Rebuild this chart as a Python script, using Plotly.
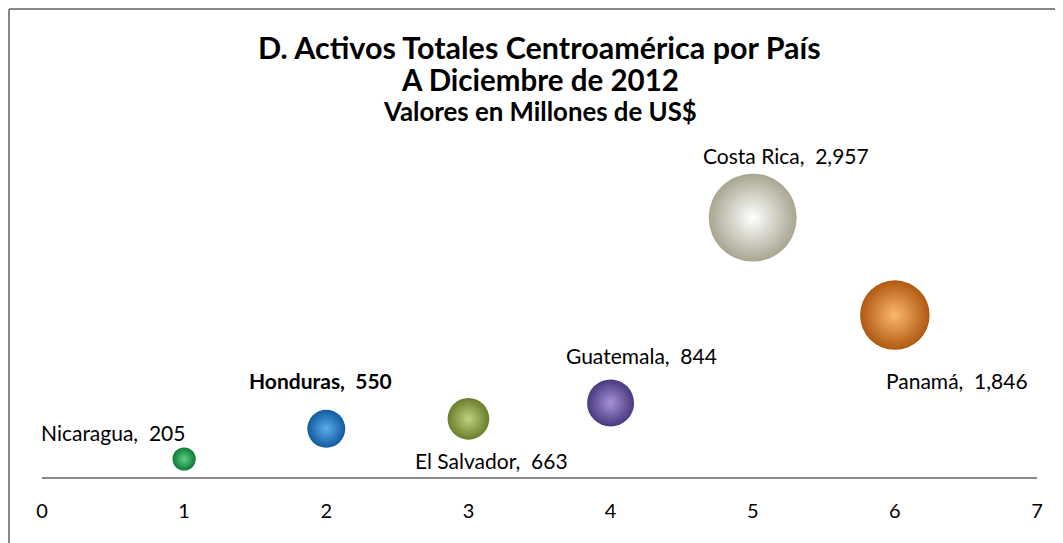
import plotly.graph_objects as go

countries = ["Nicaragua", "Honduras", "El Salvador", "Guatemala", "Costa Rica", "Panamá"]
x_pos = [1, 2, 3, 4, 5, 6]
assets = [205, 550, 663, 844, 2957, 1846]
value_labels = ["205", "550", "663", "844", "2,957", "1,846"]
x_ticks = [0, 1, 2, 3, 4, 5, 6, 7]

# styles
center_colors = ["#5fd088", "#5aaeea", "#bdd27e", "#a593d4", "#ffffff", "#fbb870"]
edge_colors = ["#0c7a34", "#125a9e", "#6a7d2c", "#4a3880", "#a8a690", "#b05810"]
label_shift = [(-71, 27), (-6, 48), (23, -42), (31, 47), (33, 62), (62, -65)]
FONT = "Lato"

# page body has an 8px margin; figure laid out in its own coordinates
OFF = 8
W, H = 1063 - OFF, 543 - OFF
L, T = 42 - OFF, 170 - OFF
pw, ph = 995, 307
R = W - L - pw
B = H - T - ph

fig = go.Figure()
for i in range(len(countries)):
    fig.add_trace(go.Scatter(
        x=[x_pos[i]], y=[assets[i]], mode="markers",
        marker=dict(size=[assets[i]], sizemode="area", sizeref=0.764, opacity=1,
                    color=edge_colors[i], line=dict(width=0),
                    gradient=dict(type="radial", color=center_colors[i])),
        cliponaxis=False, showlegend=False, hoverinfo="skip"))

for i, c in enumerate(countries):
    txt = f"{c},\u00a0\u00a0{value_labels[i]}"
    if c == "Honduras":
        txt = f"<b>{txt}</b>"
    fig.add_annotation(x=x_pos[i], y=assets[i], text=txt, showarrow=False,
                       xshift=label_shift[i][0], yshift=label_shift[i][1],
                       xanchor="center", yanchor="middle",
                       font=dict(family=FONT, size=21, color="#000"))

title_lines = [("<b>D. Activos Totales Centroamérica por País</b>", 30.5, 47),
               ("<b>A Diciembre de 2012</b>", 29.5, 79),
               ("<b>Valores en Millones de US$</b>", 25.8, 111)]
for txt, sz, ypx in title_lines:
    fig.add_annotation(xref="paper", yref="paper", x=0.5,
                       y=(T + ph - (ypx - OFF)) / ph,
                       text=txt, showarrow=False, xanchor="center", yanchor="middle",
                       font=dict(family=FONT, size=sz, color="#000"))

# chart border (left and top)
bx = (1 - L) / pw
by = (T + ph - 1) / ph
fig.add_shape(type="line", xref="paper", yref="paper",
              x0=bx, x1=bx, y0=by, y1=-1, line=dict(color="#888888", width=2))
fig.add_shape(type="line", xref="paper", yref="paper",
              x0=bx, x1=1.2, y0=by, y1=by, line=dict(color="#888888", width=2))

fig.update_xaxes(range=[0, 7], tickvals=x_ticks, showgrid=False, zeroline=False,
                 showline=True, linecolor="#898989", linewidth=2,
                 ticks="", ticklabelstandoff=15, automargin=False,
                 tickfont=dict(family=FONT, size=20, color="#000"))
fig.update_yaxes(range=[0, 3500], visible=False, showgrid=False, zeroline=False)
fig.update_layout(width=W, height=H, margin=dict(l=L, r=R, t=T, b=B),
                  plot_bgcolor="white", paper_bgcolor="white",
                  font=dict(family=FONT))
fig.write_html("out.html")
